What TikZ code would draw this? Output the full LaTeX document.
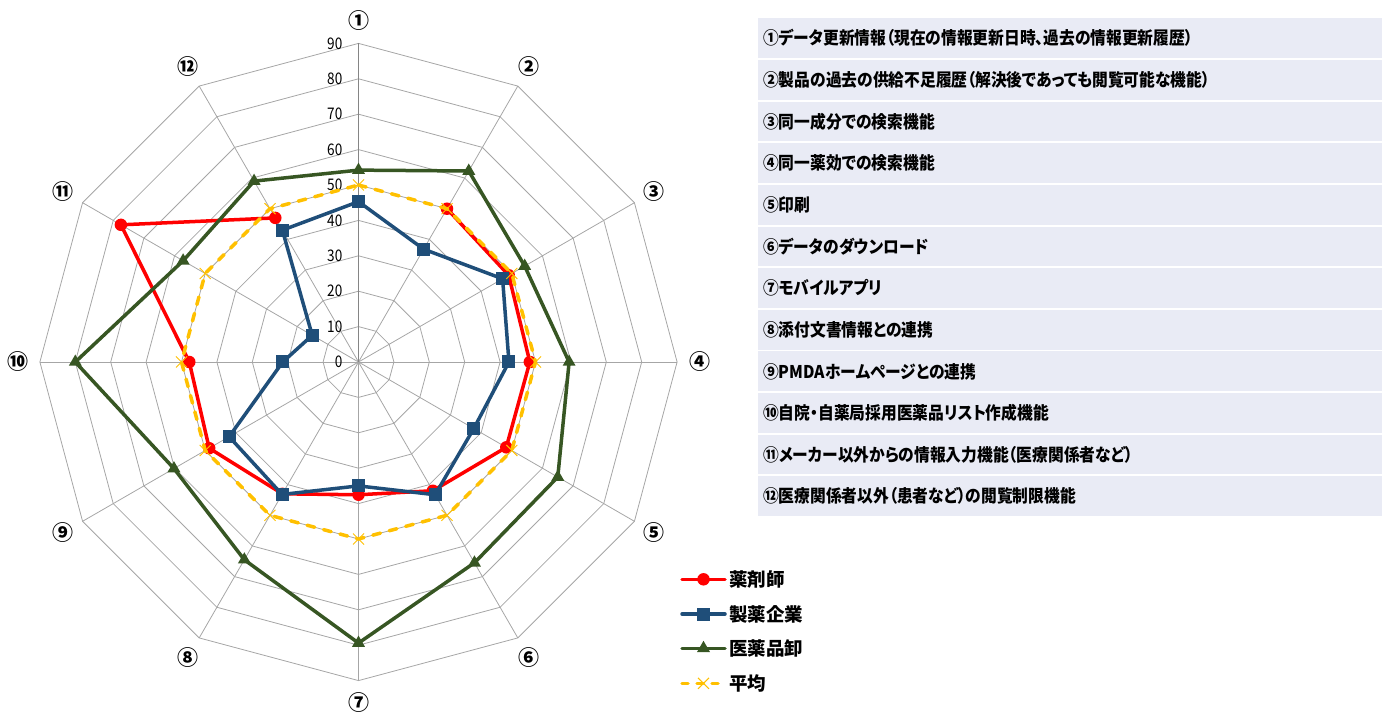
\documentclass[tikz,border=0pt]{standalone}
\usepackage{fontspec}
\newfontfamily\jp{Noto Sans CJK JP}
\newfontfamily\jpp{Noto Sans CJK JP}[RawFeature=+palt, FakeStretch=0.9]
\newfontfamily\jpn{Noto Sans CJK JP}[FakeStretch=0.85]
\usetikzlibrary{shapes.geometric,calc}
\definecolor{cred}{HTML}{FF0000}
\definecolor{cblue}{HTML}{1F4E79}
\definecolor{cgreen}{HTML}{375623}
\definecolor{cyellow}{HTML}{FFC000}
\definecolor{cgrid}{HTML}{A6A6A6}
\definecolor{crow}{HTML}{E9EBF5}
\tikzset{
  grid/.style={cgrid, line width=0.8pt},
  mainaxis/.style={cgrid!80!black, line width=1.4pt},
  redline/.style={cred, line width=3.5pt, line join=round},
  blueline/.style={cblue, line width=3.5pt, line join=round},
  greenline/.style={cgreen, line width=3.5pt, line join=round},
  yelline/.style={cyellow, line width=3.5pt, line cap=round, dash pattern=on 8pt off 9pt},
  redmark/.style={circle, fill=cred, minimum size=12.5pt, inner sep=0pt},
  bluemark/.style={rectangle, fill=cblue, minimum size=13pt, inner sep=0pt},
  greenmark/.style={regular polygon, regular polygon sides=3, fill=cgreen, minimum size=15pt, inner sep=0pt},
  ticklbl/.style={anchor=east, inner sep=0pt, font=\jpn\fontsize{16}{16}\selectfont},
  circlbl/.style={inner sep=0pt, font=\jp\bfseries\fontsize{21}{21}\selectfont},
  rowbox/.style={fill=crow, draw=none},
  rowtxt/.style={anchor=west, inner sep=0pt, font=\jpp\bfseries\fontsize{17.5}{17.5}\selectfont},
  legtxt/.style={anchor=west, inner sep=0pt, font=\jp\bfseries\fontsize{18.5}{18.5}\selectfont},
}
\newcommand\ymark[1]{\draw[cyellow, line width=1pt] ($(#1)+(-5.5,-5.5)$) -- ($(#1)+(5.5,5.5)$) ($(#1)+(-5.5,5.5)$) -- ($(#1)+(5.5,-5.5)$);}
\begin{document}
\begin{tikzpicture}[x=1pt,y=1pt]
\useasboundingbox (0,0) rectangle (1387,718);
\begin{scope}[shift={(358.5,356)}]
  % rings
  \foreach \r in {1,...,9} {
    \draw[grid] (90:\r*35.4) \foreach \k in {1,...,11} { -- ({90-30*\k}:\r*35.4) } -- cycle;
  }
  % spokes
  \foreach \k in {1,...,11} { \draw[grid] (0,0) -- ({90-30*\k}:318.6); }
  \draw[mainaxis] (0,0) -- (90:318.6);
  % tick labels
  \foreach \r in {0,...,9} { \node[ticklbl] (t\r) at (-16,\r*35.4) {\the\numexpr\r*10\relax}; }
  % category labels
  \foreach \c [count=\k from 0] in {①,②,③,④,⑤,⑥,⑦,⑧,⑨,⑩,⑪,⑫} {
    \node[circlbl] (c\k) at ({90-30*\k}:341) {\c};
  }
  % red series (no value for 1)
  \draw[redline] (60:50*3.54)
    \foreach \v [count=\k from 2] in {49,48.4,48.2,42,37.5,43,48.7,47.8,77.5,47} { -- ({90-30*\k}:\v*3.54) };
  \foreach \v [count=\k from 1] in {50,49,48.4,48.2,42,37.5,43,48.7,47.8,77.5,47} {
    \node[redmark] (r\k) at ({90-30*\k}:\v*3.54) {};
  }
  % blue series
  \draw[blueline] (90:45.3*3.54)
    \foreach \v [count=\k from 1] in {36.8,47,42.5,37.6,43.3,35,43.2,42.2,21.4,15.1,43} { -- ({90-30*\k}:\v*3.54) } -- cycle;
  \foreach \v [count=\k from 0] in {45.3,36.8,47,42.5,37.6,43.3,35,43.2,42.2,21.4,15.1,43} {
    \node[bluemark] (b\k) at ({90-30*\k}:\v*3.54) {};
  }
  % green series
  \draw[greenline] (90:54.2*3.54)
    \foreach \v [count=\k from 1] in {62.3,54.2,59.5,65,65.5,79.4,64.5,60.2,80,57.2,59} { -- ({90-30*\k}:\v*3.54) } -- cycle;
  \foreach \v [count=\k from 0] in {54.2,62.3,54.2,59.5,65,65.5,79.4,64.5,60.2,80,57.2,59} {
    \node[greenmark] (g\k) at ({90-30*\k}:\v*3.54) {};
  }
  % average series
  \draw[yelline] (90:50*3.54)
    \foreach \k in {1,...,11} { -- ({90-30*\k}:50*3.54) } -- cycle;
  \foreach \k in {0,...,11} {
    \coordinate (y\k) at ({90-30*\k}:50*3.54);
    \ymark{y\k}
  }
\end{scope}
% table
\foreach \t [count=\i from 0] in {
  ①データ更新情報（現在の情報更新日時、過去の情報更新履歴）,
  ②製品の過去の供給不足履歴（解決後であっても閲覧可能な機能）,
  ③同一成分での検索機能,
  ④同一薬効での検索機能,
  ⑤印刷,
  ⑥データのダウンロード,
  ⑦モバイルアプリ,
  ⑧添付文書情報との連携,
  ⑨PMDAホームページとの連携,
  ⑩自院・自薬局採用医薬品リスト作成機能,
  ⑪メーカー以外からの情報入力機能（医療関係者など）,
  ⑫医療関係者以外（患者など）の閲覧制限機能} {
  \fill[rowbox] (758,{718-18.3-41.65*\i}) rectangle (1382,{718-58-41.65*\i});
  \node[rowtxt] (row\i) at (763,{718-38.2-41.65*\i}) {\t};
}
% legend
\coordinate (la1) at (682,138.7); \coordinate (lb1) at (725,138.7);
\coordinate (la2) at (682,104); \coordinate (lb2) at (725,104);
\coordinate (la3) at (682,69.7); \coordinate (lb3) at (725,69.7);
\coordinate (la4) at (682,34.7); \coordinate (lb4) at (725,34.7);
\draw[redline, line cap=round] (la1) -- (lb1);
\node[redmark] (lm1) at ($(la1)!0.5!(lb1)$) {};
\draw[blueline, line cap=round] (la2) -- (lb2);
\node[bluemark] (lm2) at ($(la2)!0.5!(lb2)$) {};
\draw[greenline, line cap=round] (la3) -- (lb3);
\node[greenmark] (lm3) at ($(la3)!0.5!(lb3)$) {};
\draw[yelline, dash pattern=on 6pt off 9pt] (la4) -- (lb4);
\coordinate (lm4) at ($(la4)!0.5!(lb4)$);
\ymark{lm4}
\node[legtxt] (lt1) at (729,138.7) {薬剤師};
\node[legtxt] (lt2) at (729,104) {製薬企業};
\node[legtxt] (lt3) at (729,69.7) {医薬品卸};
\node[legtxt] (lt4) at (729,34.7) {平均};
\end{tikzpicture}
\end{document}
